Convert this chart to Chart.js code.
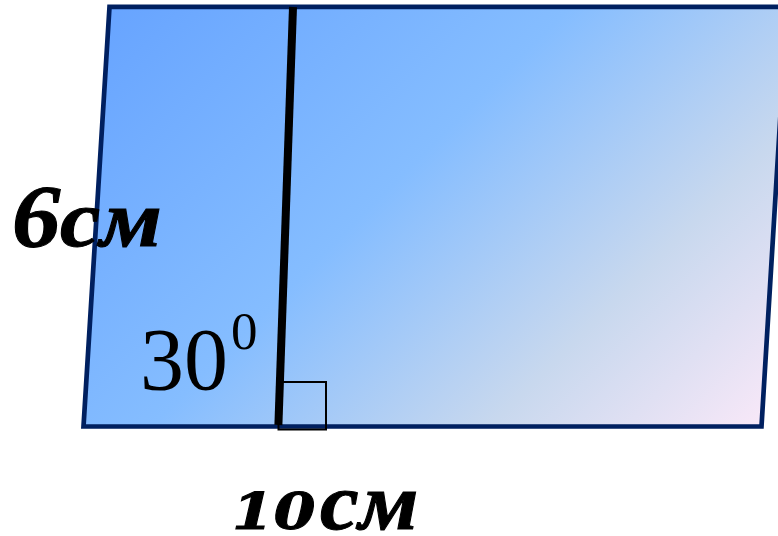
<!DOCTYPE html>
<html lang="en">
<head>
    <meta charset="UTF-8">
    <title>Parallelogram</title>
    <script src="https://cdn.jsdelivr.net/npm/chart.js"></script>
    <style>
        html, body { margin: 0; padding: 0; background: #fff; overflow: hidden; }
        canvas { display: block; }
    </style>
</head>
<body>
    <canvas id="figure" width="778" height="536"></canvas>
    <script>
        // shape outline (starts off-canvas so the join is hidden)
        const outlineX = [787, 761.5, 83.5, 109.5, 787];
        const outlineY = [6.8, 426.5, 426.5, 6.8, 6.8];
        const heightX = [293, 278.4];
        const heightY = [7, 425];
        const squareX = [278.5, 278.5, 326, 326, 278.5];
        const squareY = [382, 429.5, 429.5, 382, 382];

        const toPoints = (xs, ys) => xs.map((x, i) => ({ x: x, y: ys[i] }));

        const serifBold = 'italic bold 80px "Liberation Serif"';
        const labels = [
            { text: '6', x: 12, y: 246, font: 'italic bold 88px "Liberation Serif"', sx: 1.1, weight: 1 },
            { text: 'см', x: 60, y: 246, font: serifBold, sx: 1.13, weight: 1 },
            { text: '10', x: 232, y: 529, font: 'italic bold 50px "DejaVu Serif"', sx: 1.2, weight: 1 },
            { text: 'см', x: 320, y: 529, font: serifBold, sx: 1.09, weight: 1 },
            { text: '30', x: 140, y: 389, font: '88px "Liberation Serif"', sx: 1, weight: 0 },
            { text: '0', x: 231, y: 349, font: '53px "Liberation Serif"', sx: 1, weight: 0 }
        ];

        const textPlugin = {
            id: 'textPlugin',
            afterDatasetsDraw(chart) {
                const ctx = chart.ctx;
                const sx = chart.scales.x, sy = chart.scales.y;
                labels.forEach(l => {
                    ctx.save();
                    ctx.fillStyle = '#000';
                    ctx.strokeStyle = '#000';
                    ctx.textBaseline = 'alphabetic';
                    ctx.font = l.font;
                    ctx.translate(sx.getPixelForValue(l.x), sy.getPixelForValue(l.y));
                    ctx.scale(l.sx, 1);
                    ctx.fillText(l.text, 0, 0);
                    if (l.weight) {
                        ctx.lineWidth = l.weight;
                        ctx.strokeText(l.text, 0, 0);
                    }
                    ctx.restore();
                });
            }
        };

        function shapeGradient(context) {
            const chart = context.chart;
            if (!chart.chartArea) return '#80bcff';
            const g = chart.ctx.createLinearGradient(
                chart.scales.x.getPixelForValue(100), chart.scales.y.getPixelForValue(0),
                chart.scales.x.getPixelForValue(644), chart.scales.y.getPixelForValue(544));
            g.addColorStop(0, '#66a3ff');
            g.addColorStop(0.44, '#85bdff');
            g.addColorStop(0.75, '#c8d8ee');
            g.addColorStop(1, '#f8e8f8');
            return g;
        }

        new Chart(document.getElementById('figure').getContext('2d'), {
            type: 'scatter',
            data: {
                datasets: [
                    {
                        data: toPoints(squareX, squareY),
                        showLine: true,
                        pointRadius: 0,
                        borderColor: '#000',
                        borderWidth: 2,
                        borderJoinStyle: 'miter',
                        borderCapStyle: 'square',
                        order: 1
                    },
                    {
                        data: toPoints(heightX, heightY),
                        showLine: true,
                        pointRadius: 0,
                        borderColor: '#000',
                        borderWidth: 8,
                        order: 2
                    },
                    {
                        data: toPoints(outlineX, outlineY),
                        showLine: true,
                        pointRadius: 0,
                        fill: 'shape',
                        backgroundColor: shapeGradient,
                        borderColor: '#002060',
                        borderWidth: 4.7,
                        borderJoinStyle: 'miter',
                        order: 3
                    }
                ]
            },
            options: {
                responsive: false,
                animation: false,
                layout: { padding: 0 },
                plugins: { legend: { display: false }, tooltip: { enabled: false }, title: { display: false } },
                scales: {
                    x: { type: 'linear', min: 0, max: 778, display: false },
                    y: { type: 'linear', min: 0, max: 536, reverse: true, display: false }
                }
            },
            plugins: [textPlugin]
        });
    </script>
</body>
</html>
